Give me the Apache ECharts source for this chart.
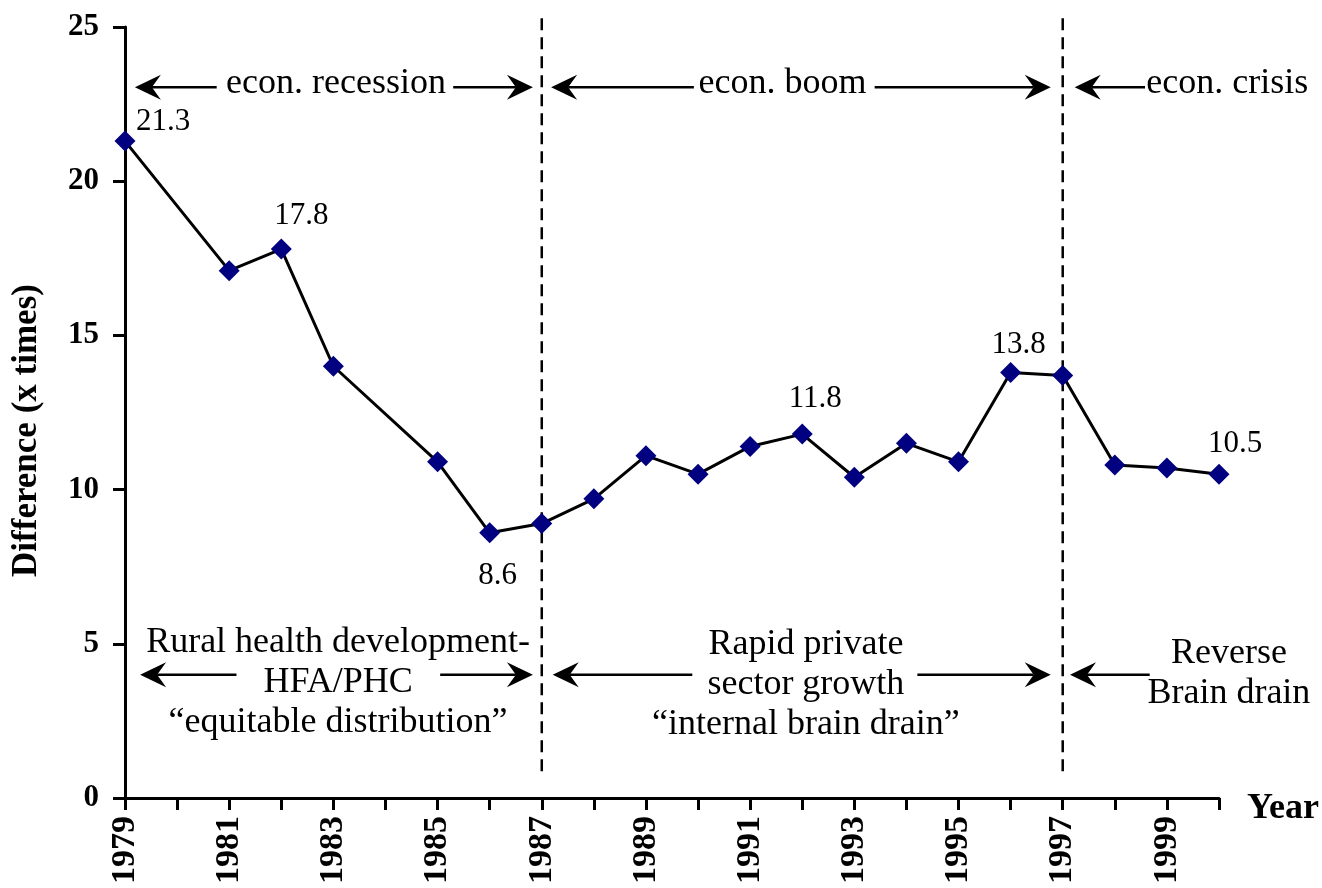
<!DOCTYPE html>
<html><head><meta charset="utf-8">
<script src="https://cdn.jsdelivr.net/npm/echarts@6/dist/echarts.min.js"></script>
<style>html,body{margin:0;padding:0;background:#fff}#c{width:1322px;height:888px}</style>
</head><body><div id="c"></div>
<script>
// ---- data ----
const years  = [1979,1981,1982,1983,1985,1986,1987,1988,1989,1990,1991,1992,1993,1994,1995,1996,1997,1998,1999,2000];
const values = [21.3,17.1,17.8,14.0,10.9,8.6,8.9,9.7,11.1,10.5,11.4,11.8,10.4,11.5,10.9,13.8,13.7,10.8,10.7,10.5];
const labeledYears = [1979,1982,1986,1992,1996,2000];
const xTickLabels = ['1979','1981','1983','1985','1987','1989','1991','1993','1995','1997','1999'];
const periodBoundaries = [1987,1997];
const topRowTexts = ['econ. recession','econ. boom','econ. crisis'];
const bottomRowTexts = ['Rural health development-\nHFA/PHC\n\u201cequitable distribution\u201d','Rapid private\nsector growth\n\u201cinternal brain drain\u201d','Reverse\nBrain drain'];

// ---- styles ----
const FONT = '"Liberation Serif", "Times New Roman", serif';
const labelStyle = {
  1979:{position:'top',offset:[38,12]},
  1982:{position:'top',offset:[20,-2]},
  1986:{position:'bottom',offset:[8,12]},
  1992:{position:'top',offset:[13,-4]},
  1996:{position:'top',offset:[8,3]},
  2000:{position:'top',offset:[16,1]}
};

const seriesData = years.map((yr,i)=>{
  const item = {value:[yr, values[i]]};
  if (labeledYears.includes(yr)) {
    const s = labelStyle[yr];
    item.label = {show:true, position:s.position, offset:s.offset, distance:5,
      formatter: p => p.value[1].toFixed(1),
      fontFamily:FONT, fontSize:31, color:'#000'};
  }
  return item;
});

const chart = echarts.init(document.getElementById('c'), null, {renderer:'canvas'});
const axisLineStyle = {color:'#000', width:3};
chart.setOption({
  animation:false,
  backgroundColor:'#fff',
  grid:{left:125, right:103, top:27, bottom:90, containLabel:false},
  xAxis:{
    type:'value', min:1979, max:2000, interval:1,
    name:'Year', nameLocation:'end', nameGap:28, nameMoveOverlap:false,
    nameTextStyle:{fontFamily:FONT, fontSize:36, fontWeight:'bold', color:'#000', align:'left', verticalAlign:'top', lineHeight:22},
    axisLine:{show:true, lineStyle:axisLineStyle},
    axisTick:{show:true, length:12, lineStyle:axisLineStyle},
    axisLabel:{rotate:90, margin:18, fontFamily:FONT, fontSize:34, fontWeight:'bold', color:'#000',
      showMinLabel:true, showMaxLabel:true, hideOverlap:false,
      formatter: v => xTickLabels.includes(String(v)) ? String(v) : ''},
    splitLine:{show:false}
  },
  yAxis:{
    type:'value', min:0, max:25, interval:5,
    name:'Difference (x times)', nameLocation:'middle', nameGap:81, nameRotate:90, nameMoveOverlap:false,
    nameTextStyle:{fontFamily:FONT, fontSize:35, fontWeight:'bold', color:'#000', padding:[0,36,0,0]},
    axisLine:{show:true, lineStyle:axisLineStyle},
    axisTick:{show:true, length:12, lineStyle:axisLineStyle},
    axisLabel:{margin:26, fontFamily:FONT, fontSize:31, fontWeight:'bold', color:'#000'},
    splitLine:{show:false}
  },
  series:[{
    type:'line', data:seriesData, clip:false, z:5,
    symbol:'diamond', symbolSize:21,
    itemStyle:{color:'#000080'},
    lineStyle:{color:'#000', width:3},
    label:{show:false}
  }]
});

// ---- annotations (in data coordinates) ----
const P = (x,y) => chart.convertToPixel({gridIndex:0},[x,y]);
const g = [];
function dashed(x){
  const a = P(x,25.28), b = P(x,0.86);
  g.push({type:'line', z:1, shape:{x1:a[0],y1:a[1],x2:b[0],y2:b[1]}, style:{stroke:'#000', lineWidth:2.5, lineDash:[12,7]}});
}
function arrow(x0,x1,y){
  const a = P(x0,y), b = P(x1,y);
  const d = b[0] > a[0] ? 1 : -1;
  const L = 26, H = 12.5, N = 17;
  g.push({type:'line', z:3, shape:{x1:a[0],y1:a[1],x2:b[0]-d*N,y2:b[1]}, style:{stroke:'#000', lineWidth:2.5}});
  g.push({type:'polygon', z:3, shape:{points:[[b[0],b[1]],[b[0]-d*L,b[1]-H],[b[0]-d*N,b[1]],[b[0]-d*L,b[1]+H]]}, style:{fill:'#000'}});
}
function txt(s,x,y){
  const p = P(x,y);
  g.push({type:'text', z:3, x:p[0], y:p[1], style:{text:s, fontFamily:FONT, fontSize:36, fill:'#000', align:'center', verticalAlign:'middle', lineHeight:40}});
}
periodBoundaries.forEach(dashed);
// top row
arrow(1980.76,1979.19,23.05); arrow(1985.30,1986.83,23.05); txt(topRowTexts[0],1983.05,23.18);
arrow(1989.92,1987.18,23.05); arrow(1993.39,1996.77,23.05); txt(topRowTexts[1],1991.62,23.18);
arrow(1998.58,1997.23,23.05); txt(topRowTexts[2],2000.16,23.18);
// bottom row
arrow(1981.14,1979.29,4.0); arrow(1985.05,1986.83,4.0); txt(bottomRowTexts[0],1983.09,3.74);
arrow(1989.89,1987.21,4.0); arrow(1994.21,1996.77,4.0); txt(bottomRowTexts[1],1992.07,3.68);
arrow(1998.67,1997.14,4.0); txt(bottomRowTexts[2],2000.19,4.03);
chart.setOption({graphic:g});
</script>
</body></html>
